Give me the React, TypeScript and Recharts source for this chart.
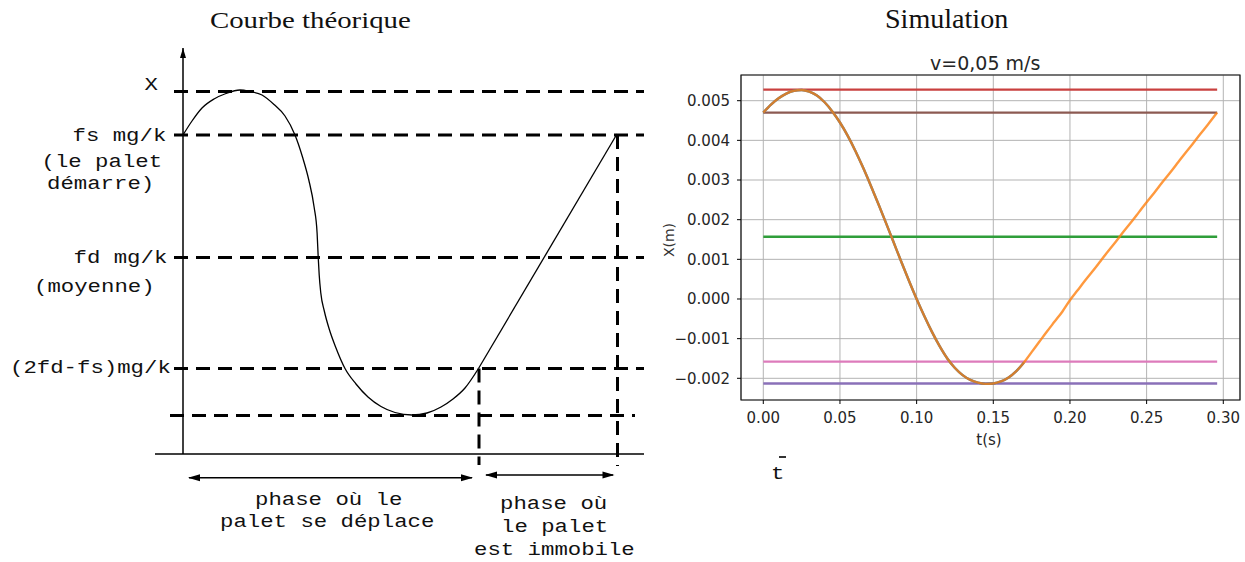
import React from "react";
import {
  LineChart,
  Line,
  XAxis,
  YAxis,
  CartesianGrid,
  ReferenceLine,
  ReferenceDot,
  ReferenceArea,
  Label,
} from "recharts";

// left panel: hand drawn theoretical curve (arbitrary units, x = time, y = position)
const sketchLevels = [362.5, 319, 196.5, 85.5];
const sketchLabels = [
  ["X"],
  ["fs mg/k", "(le palet", "démarre)"],
  ["fd mg/k", "(moyenne)"],
  ["(2fd-fs)mg/k"],
];
const sketchBottom = 38.5;
const slipT = [0, 9, 19, 31, 43, 57, 67, 79, 91, 102, 112, 119.5, 125.8, 131.1, 134.1, 135.2, 136.2, 137.8, 141.3, 146.2, 152.6, 162, 173, 185, 198, 212, 229, 244, 258, 270, 282, 295.5];
const slipX = [319, 333, 346, 355, 360.5, 364, 362.5, 359, 349.5, 338, 319, 297, 274, 247, 221, 197, 179, 161, 143, 125, 107, 85.5, 70, 57, 47.5, 41.5, 39, 41, 47, 55, 66, 85.5];
const stickT = [295.5, 434];
const stickX = [85.5, 320];
const movingText = ["phase où le", "palet se déplace"];
const stillText = ["phase où", "le palet", "est immobile"];

// right panel: simulation, v = 0,05 m/s
const simT = [0, 0.005, 0.01, 0.015, 0.02, 0.025, 0.03, 0.035, 0.04, 0.045, 0.05, 0.055, 0.06, 0.065, 0.07, 0.075, 0.08, 0.085, 0.09, 0.095, 0.1, 0.105, 0.11, 0.115, 0.12, 0.125, 0.13, 0.135, 0.14, 0.145, 0.15, 0.155, 0.16, 0.165, 0.17, 0.175, 0.18, 0.185, 0.19, 0.195, 0.2, 0.205, 0.21, 0.215, 0.22, 0.225, 0.23, 0.235, 0.24, 0.245, 0.25, 0.255, 0.26, 0.265, 0.27, 0.275, 0.28, 0.285, 0.29, 0.296];
const simX = [0.0047, 0.0049, 0.00506, 0.00518, 0.00525, 0.00527, 0.00523, 0.00513, 0.00496, 0.00473, 0.00445, 0.00412, 0.00374, 0.00332, 0.00287, 0.0024, 0.00192, 0.00143, 0.00094, 0.00046, 0.0, -0.00043, -0.00083, -0.00119, -0.0015, -0.00174, -0.00192, -0.00204, -0.00211, -0.00214, -0.00213, -0.00208, -0.00198, -0.00182, -0.0016, -0.00134, -0.00108, -0.00082, -0.00057, -0.00032, -0.00003, 0.00022, 0.00047, 0.00071, 0.00096, 0.00121, 0.00145, 0.0017, 0.00194, 0.00219, 0.00244, 0.00268, 0.00293, 0.00317, 0.00342, 0.00367, 0.00391, 0.00416, 0.0044, 0.0047];
const simLevels = [0.00528, 0.0047, 0.00157, -0.00158, -0.00213];
const simTEnd = 0.296;
const slipEndT = 0.17;
const tTicks = [0, 0.05, 0.1, 0.15, 0.2, 0.25, 0.3];
const xTicks = [-0.002, -0.001, 0, 0.001, 0.002, 0.003, 0.004, 0.005];

const levelColors = ["#c9403f", "#8c5a52", "#2f9e3a", "#dd7bbb", "#8a70b8"];

const MONO = "'Liberation Mono', 'DejaVu Sans Mono', monospace";
const SERIF = "'Liberation Serif', 'DejaVu Serif', serif";
const SANS = "'DejaVu Sans', sans-serif";
const CW = 13.4; // stretched courier advance

const metrics: Record<string, number> = { mono: 0.7665, serif: 0.8375, sans: 0.846 };

function Note({ text, x, baseline, size, font, scale = 1, color = "#111" }: any) {
  const fam = font === "mono" ? MONO : font === "serif" ? SERIF : SANS;
  return (
    <div
      style={{
        position: "absolute",
        left: x,
        top: baseline - metrics[font] * size,
        fontFamily: fam,
        fontSize: size,
        lineHeight: `${size}px`,
        whiteSpace: "pre",
        color,
        transform: `scaleX(${scale})`,
        transformOrigin: "left top",
      }}
    >
      {text}
    </div>
  );
}

const labelPos = [
  [[144.5, -2]],
  [[72.5, 5.5], [41.5, 31.5], [47, 54]],
  [[73.5, 5.5], [34, 34]],
  [[10, 4.5]],
];

function SketchTick(props: any) {
  const { y, payload } = props;
  const i = sketchLevels.indexOf(payload.value);
  if (i < 0) return <g />;
  return (
    <g>
      {sketchLabels[i].map((s, j) => (
        <text
          key={j}
          x={labelPos[i][j][0]}
          y={y + labelPos[i][j][1]}
          fontFamily={MONO}
          fontSize={19}
          fill="#111"
          textLength={s.length * CW}
          lengthAdjust="spacingAndGlyphs"
        >
          {s}
        </text>
      ))}
    </g>
  );
}

const headUp = (p: any) => (
  <polygon points={`${p.cx},${p.cy} ${p.cx - 3},${p.cy + 10} ${p.cx + 3},${p.cy + 10}`} fill="#000" />
);
const headLeft = (p: any) => (
  <polygon points={`${p.cx},${p.cy} ${p.cx + 12},${p.cy - 3.5} ${p.cx + 12},${p.cy + 3.5}`} fill="#000" />
);
const headRight = (p: any) => (
  <polygon points={`${p.cx},${p.cy} ${p.cx - 12},${p.cy - 3.5} ${p.cx - 12},${p.cy + 3.5}`} fill="#000" />
);

function Sketch() {
  const slip = slipT.map((x, i) => ({ x, y: slipX[i] }));
  const stick = stickT.map((x, i) => ({ x, y: stickX[i] }));
  const dash = { stroke: "#000", strokeWidth: 3, strokeDasharray: "14 8" };
  return (
    <LineChart width={660} height={562} margin={{ top: 48, right: 16, bottom: 108, left: 0 }}>
      <XAxis type="number" dataKey="x" domain={[0, 461]} hide allowDataOverflow />
      <YAxis
        type="number"
        dataKey="y"
        domain={[0, 406]}
        ticks={sketchLevels}
        interval={0}
        width={183}
        allowDataOverflow
        axisLine={{ stroke: "#000", strokeWidth: 1.5 }}
        tickLine={false}
        tick={(p: any) => <SketchTick {...p} />}
      />
      {sketchLevels.map((v) => (
        <ReferenceLine key={v} segment={[{ x: -9, y: v }, { x: 461, y: v }]} ifOverflow="visible" {...dash} />
      ))}
      <ReferenceLine segment={[{ x: -13, y: sketchBottom }, { x: 452, y: sketchBottom }]} ifOverflow="visible" {...dash} />
      <ReferenceLine segment={[{ x: 296, y: stickX[0] }, { x: 296, y: -11 }]} ifOverflow="visible" {...dash} />
      <ReferenceLine segment={[{ x: 434.5, y: sketchLevels[1] }, { x: 434.5, y: -12 }]} ifOverflow="visible" {...dash} />
      <ReferenceLine segment={[{ x: -28, y: 0 }, { x: 461, y: 0 }]} ifOverflow="visible" stroke="#000" strokeWidth={1.5} />
      <ReferenceDot x={0} y={406} ifOverflow="visible" shape={headUp} />
      <ReferenceLine segment={[{ x: 6, y: -23.7 }, { x: 289, y: -23.7 }]} ifOverflow="visible" stroke="#000" strokeWidth={1.5} />
      <ReferenceDot x={5} y={-23.7} ifOverflow="visible" shape={headLeft} />
      <ReferenceDot x={290} y={-23.7} ifOverflow="visible" shape={headRight} />
      <ReferenceLine segment={[{ x: 303, y: -21 }, { x: 430, y: -21 }]} ifOverflow="visible" stroke="#000" strokeWidth={1.5} />
      <ReferenceDot x={302} y={-21} ifOverflow="visible" shape={headLeft} />
      <ReferenceDot x={431.5} y={-21} ifOverflow="visible" shape={headRight} />
      <Line data={slip} dataKey="y" type="monotone" stroke="#000" strokeWidth={1.3} dot={false} activeDot={false} isAnimationActive={false} />
      <Line data={stick} dataKey="y" type="linear" stroke="#000" strokeWidth={1.3} dot={false} activeDot={false} isAnimationActive={false} />
    </LineChart>
  );
}

const tickStyle = { fontSize: 15, fill: "#262626", fontFamily: SANS };

function Simulation() {
  const sim = simT.map((t, i) => ({ t, v: simX[i] }));
  const theory = sim.filter((d) => d.t <= slipEndT);
  return (
    <LineChart width={585} height={470} margin={{ top: 35, right: 5, bottom: 60, left: 0 }}>
      <CartesianGrid stroke="#b3b3b3" strokeWidth={1} />
      <XAxis
        type="number"
        dataKey="t"
        domain={[-0.01454, 0.3109]}
        ticks={tTicks}
        interval={0}
        allowDataOverflow
        height={50}
        axisLine={false}
        tickLine={{ stroke: "#000" }}
        tickSize={4}
        tickMargin={8}
        tick={tickStyle}
        tickFormatter={(v: number) => v.toFixed(2)}
      >
        <Label
          content={(p: any) => {
            const vb = p.viewBox || { x: 81, y: 360, width: 499, height: 50 };
            const cx = vb.x + vb.width / 2 - 1.5;
            return (
              <text x={cx} y={vb.y + 44.7} textAnchor="middle" fontFamily={SANS} fontSize={15} fill="#262626">
                t(s)
              </text>
            );
          }}
        />
      </XAxis>
      <YAxis
        type="number"
        domain={[-0.002547, 0.005648]}
        ticks={xTicks}
        interval={0}
        allowDataOverflow
        width={81}
        axisLine={false}
        tickLine={{ stroke: "#000" }}
        tickSize={4}
        tickMargin={7}
        tick={tickStyle}
        tickFormatter={(v: number) => (v < 0 ? "\u2212" : "") + Math.abs(v).toFixed(3)}
      >
        <Label
          content={(p: any) => {
            const vb = p.viewBox || { x: 0, y: 35, width: 81, height: 325 };
            const cx = vb.x + 9;
            const cy = vb.y + vb.height / 2 + 2.5;
            return (
              <text
                x={cx}
                y={cy}
                transform={`rotate(-90 ${cx} ${cy})`}
                textAnchor="middle"
                dominantBaseline="central"
                fontFamily={SANS}
                fontSize={14}
                fill="#333"
              >
                X(m)
              </text>
            );
          }}
        />
      </YAxis>
      {simLevels.map((v, i) => (
        <Line
          key={v}
          data={[{ t: 0, v }, { t: simTEnd, v }]}
          dataKey="v"
          type="linear"
          stroke={levelColors[i]}
          strokeWidth={2.4}
          dot={false}
          activeDot={false}
          isAnimationActive={false}
        />
      ))}
      <Line data={theory} dataKey="v" type="monotone" stroke="#1f77b4" strokeWidth={2.4} dot={false} activeDot={false} isAnimationActive={false} />
      <Line data={sim} dataKey="v" type="monotone" stroke="#ff7f0e" strokeOpacity={0.8} strokeWidth={2.4} dot={false} activeDot={false} isAnimationActive={false} />
      <ReferenceArea x1={-0.01454} x2={0.3109} y1={-0.002547} y2={0.005648} ifOverflow="visible" fill="none" stroke="#111" strokeWidth={1.2} />
    </LineChart>
  );
}

export default function App() {
  return (
    <div style={{ position: "absolute", left: 0, top: 0, width: 1245, height: 562, background: "#fff", overflow: "hidden" }}>
      <div style={{ position: "absolute", left: 0, top: 0 }}>
        <Sketch />
      </div>
      <div style={{ position: "absolute", left: 660, top: 40 }}>
        <Simulation />
      </div>
      <Note text="Courbe théorique" x={210} baseline={28} size={24} font="serif" scale={1.2} />
      <Note text="Simulation" x={885} baseline={28.3} size={27} font="serif" scale={1.04} />
      <Note text="v=0,05 m/s" x={930} baseline={70} size={19} font="sans" color="#262626" />
      <Note text={movingText[0]} x={255} baseline={505.5} size={19} font="mono" scale={1.175} />
      <Note text={movingText[1]} x={220} baseline={528} size={19} font="mono" scale={1.175} />
      <Note text={stillText[0]} x={500} baseline={510} size={19} font="mono" scale={1.175} />
      <Note text={stillText[1]} x={500.5} baseline={532.5} size={19} font="mono" scale={1.175} />
      <Note text={stillText[2]} x={473.5} baseline={555.5} size={19} font="mono" scale={1.175} />
      <Note text="t" x={771} baseline={480} size={19} font="mono" scale={1.175} />
      <div style={{ position: "absolute", left: 779, top: 455.5, width: 7, height: 2.5, background: "#333" }} />
    </div>
  );
}
